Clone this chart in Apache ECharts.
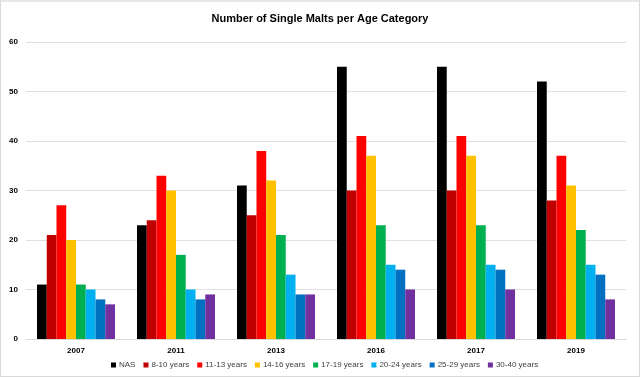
<!DOCTYPE html>
<html><head><meta charset="utf-8">
<script src="https://cdn.jsdelivr.net/npm/echarts@6/dist/echarts.min.js"></script>
<style>
html,body{margin:0;padding:0;background:#fff;}
#wrap{position:absolute;left:0;top:0;border:1px solid #d9d9d9;border-top:2px solid #e6e6e6;box-sizing:border-box;width:640px;height:377px;}
#c{width:640px;height:377px;position:absolute;left:0;top:0;}
</style></head>
<body><div id="wrap"></div><div id="c"></div>
<script>
const categories = ['2007','2011','2013','2016','2017','2019'];
const seriesNames = ['NAS','8-10 years','11-13 years','14-16 years','17-19 years','20-24 years','25-29 years','30-40 years'];
const nas   = [11,23,31,55,55,52];
const y8_10 = [21,24,25,30,30,28];
const y11_13= [27,33,38,41,41,37];
const y14_16= [20,30,32,37,37,31];
const y17_19= [11,17,21,23,23,22];
const y20_24= [10,10,13,15,15,15];
const y25_29= [8,8,9,14,14,13];
const y30_40= [7,9,9,10,10,8];
const yTicks = [0,10,20,30,40,50,60];

const values = [nas,y8_10,y11_13,y14_16,y17_19,y20_24,y25_29,y30_40];
const colors = ['#000000','#C00000','#FF0000','#FFC000','#00B050','#00B0F0','#0070C0','#7030A0'];
const FONT = '"Liberation Sans",sans-serif';

const chart = echarts.init(document.getElementById('c'), null, {renderer:'canvas'});
chart.setOption({
  animation:false,
  backgroundColor:'transparent',
  title:{text:'Number of Single Malts per Age Category',left:'center',top:8,
    textStyle:{fontFamily:FONT,fontSize:11,fontWeight:'bold',color:'#000'}},
  legend:{bottom:3,left:106,itemWidth:5,itemHeight:5,itemGap:8,icon:'rect',
    data:seriesNames,
    textStyle:{fontFamily:FONT,fontSize:8,color:'#404040',padding:[0,0,0,-2]}},
  grid:{left:26,right:14,top:42,bottom:38,containLabel:false},
  xAxis:{type:'category',data:categories,
    axisLine:{lineStyle:{color:'#d9d9d9'}},axisTick:{show:false},
    axisLabel:{fontFamily:FONT,fontSize:8,fontWeight:'bold',color:'#000',margin:8}},
  yAxis:{type:'value',min:yTicks[0],max:yTicks[yTicks.length-1],interval:10,
    axisLine:{show:false},axisTick:{show:false},
    splitLine:{lineStyle:{color:'#e0e0e0',width:1}},
    axisLabel:{fontFamily:FONT,fontSize:8,fontWeight:'bold',color:'#000',margin:8}},
  series: seriesNames.map((n,i)=>({
    name:n,type:'bar',data:values[i],barGap:'0%',barCategoryGap:'22%',
    itemStyle:{color:colors[i]}
  }))
});
</script></body></html>
